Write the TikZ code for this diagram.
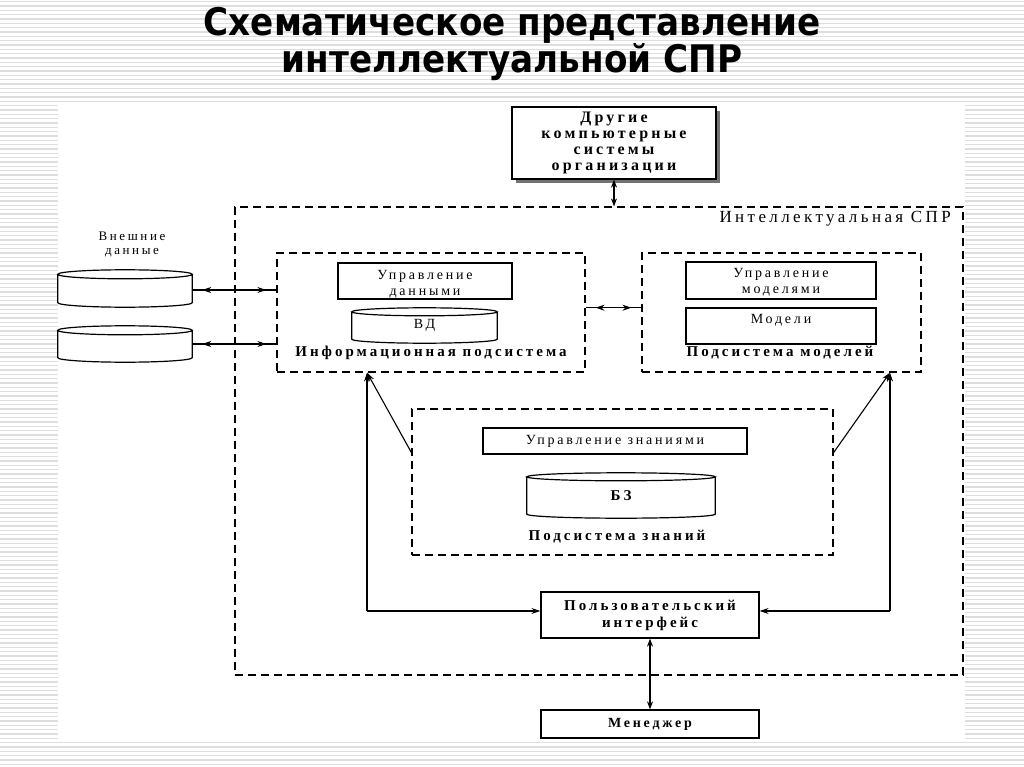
\documentclass[tikz,border=0pt]{standalone}
\usepackage{fontspec}
\setmainfont{Liberation Serif}
\newfontfamily\titlefont[FakeStretch=0.9]{DejaVu Sans}
\newfontfamily\dfont[LetterSpace=20]{Liberation Serif}
\usetikzlibrary{arrows.meta,decorations.markings,calc,shadows}
\tikzset{
  stripe/.style={fill=black!13},
  box/.style={draw, line width=1.3pt, rectangle, inner sep=1pt, align=center, font=\dfont\fontsize{14}{16}\selectfont},
  bbox/.style={box, font=\dfont\bfseries\fontsize{15}{17}\selectfont},
  dbox/.style={draw, line width=1.2pt, dash pattern=on 8pt off 5pt, rectangle, inner sep=0pt},
  cylbox/.style={rectangle, inner sep=0pt, align=center, font=\dfont\fontsize{14}{16}\selectfont},
  lab/.style={inner sep=0pt, font=\dfont\bfseries\fontsize{15}{17}\selectfont},
  intext/.style={inner sep=0pt, align=center, font=\dfont\fontsize{14}{16}\selectfont},
  arr/.style={line width=1.1pt, -{Stealth[length=9pt,width=6pt]}},
  both/.style={line width=1.1pt, {Stealth[length=8pt,width=6pt]}-{Stealth[length=8pt,width=6pt]}},
  tipsin/.style={line width=1.1pt, postaction={decorate}, decoration={markings,
     mark=at position #1 with {\arrowreversed{Stealth[length=9pt,width=6pt]}},
     mark=at position -#1 with {\arrow{Stealth[length=9pt,width=6pt]}}}},
  ttl/.style={inner sep=0pt, anchor=base, font=\titlefont\bfseries\fontsize{38}{40}\selectfont}
}
\newcommand\drawcyl[2]{%
  \draw[line width=1.2pt] let \p1=(#1.north west), \p2=(#1.south east) in
   ({(\x1+\x2)/2},{\y1-#2pt}) ellipse [x radius={(\x2-\x1)/2}, y radius=#2pt]
   (\x1,{\y1-#2pt}) -- (\x1,{\y2+#2pt}) arc [start angle=180, end angle=360, x radius={(\x2-\x1)/2}, y radius=#2pt] -- (\x2,{\y1-#2pt});
}
\begin{document}
\begin{tikzpicture}[x=1pt,y=1pt]
\useasboundingbox (0,0) rectangle (1024,-767);
\fill[white] (0,0) rectangle (1024,-767);
\foreach \i in {0,...,177} {\fill[stripe] (0,{-1-\i*4.333}) rectangle (1024,{-2.4-\i*4.333});}
\fill[white] (58,-105) rectangle (965,-740);

% title
\node[ttl] (t1) at (512,-36) {Схематическое представление};
\node[ttl] (t2) at (512,-73) {интеллектуальной СПР};

% other systems
\node[bbox, minimum width=204, minimum height=72, font=\dfont\bfseries\fontsize{16}{16}\selectfont,
      drop shadow={shadow xshift=4pt, shadow yshift=-4pt, fill=black!55, opacity=1}, fill=white]
      (other) at (614,-143) {Другие\\компьютерные\\системы\\организации};

% intelligent DSS
\node[dbox, minimum width=728, minimum height=468] (spr) at (599,-441) {};
\node[inner sep=0pt, anchor=east, font=\dfont\fontsize{17}{18}\selectfont] (sprl) at (951,-219) {Интеллектуальная СПР};

% external data
\node[inner sep=0pt, align=center, font=\dfont\fontsize{13}{14}\selectfont] (extl) at (132,-245) {Внешние\\данные};
\node[cylbox, minimum width=134, minimum height=37] (ext1) at (125,-288.5) {};
\node[cylbox, minimum width=134, minimum height=36] (ext2) at (125,-344) {};
\drawcyl{ext1}{4.5}
\drawcyl{ext2}{4.5}

% information subsystem
\node[dbox, minimum width=308, minimum height=119] (info) at (431,-312.5) {};
\node[box, minimum width=174, minimum height=36,
      label={[intext, yshift=-3pt]center:Управление\\данными}] (dm) at (425,-281) {};
\node[cylbox, minimum width=145, minimum height=35] (bd) at (424.5,-325.5) {ВД};
\drawcyl{bd}{4}
\node[lab] (infol) at (431,-353) {Информационная подсистема};

% model subsystem
\node[dbox, minimum width=279, minimum height=119] (mod) at (781.5,-312.5) {};
\node[box, minimum width=190, minimum height=37,
      label={[intext, yshift=-2pt]center:Управление\\моделями}] (mm) at (781,-280.5) {};
\node[box, minimum width=190, minimum height=36,
      label={[intext, anchor=north, yshift=-7pt]north:Модели}] (models) at (781,-326) {};
\node[lab] (modl) at (780,-353) {Подсистема моделей};

% knowledge subsystem
\node[dbox, minimum width=421, minimum height=146] (kn) at (622.5,-482) {};
\node[box, minimum width=264, minimum height=26] (km) at (615,-441) {Управление знаниями};
\node[cylbox, minimum width=188, minimum height=45, font=\dfont\bfseries\fontsize{15}{17}\selectfont] (bz) at (621,-495.5) {БЗ};
\drawcyl{bz}{4}
\node[lab] (knl) at (617,-537) {Подсистема знаний};

% interface and manager
\node[bbox, minimum width=218, minimum height=46] (ui) at (650,-615) {Пользовательский\\интерфейс};
\node[bbox, minimum width=218, minimum height=28, font=\dfont\bfseries\fontsize{14}{16}\selectfont] (mgr) at (650,-724) {Менеджер};

% connectors
\draw[both] (other.south) -- (other.south |- spr.north);
\draw[tipsin=10pt] ($(ext1.east)+(0,-1.5)$) -- ($(info.west |- ext1.east)+(0,-1.5)$);
\draw[tipsin=10pt] (ext2.east) -- (info.west |- ext2.east);
\draw[tipsin=10pt] ($(info.north east)!0.46!(info.south east)$) -- ($(mod.north west)!0.46!(mod.south west)$);

\coordinate (cl) at (367,-611);
\coordinate (cr) at (890,-611);
\draw[arr] (cl) -- (cl |- info.south);
\draw[arr] ($(kn.north west)!0.3!(kn.south west)$) -- (cl |- info.south);
\draw[arr] (cl) -- (cl -| ui.west);
\draw[arr] (cr) -- (cr |- mod.south);
\draw[arr] ($(kn.north east)!0.3!(kn.south east)$) -- (cr |- mod.south);
\draw[arr] (cr) -- (cr -| ui.east);
\draw[both] (ui.south) -- (mgr.north);
\end{tikzpicture}
\end{document}
